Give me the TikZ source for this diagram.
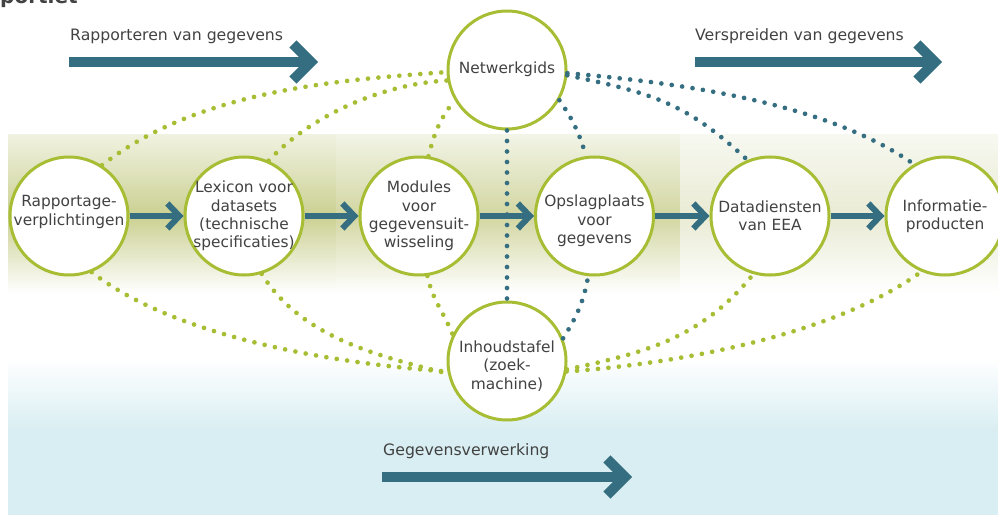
\documentclass[tikz,border=0pt]{standalone}
\usepackage{fontspec}
\setmainfont{DejaVu Sans}
\usetikzlibrary{arrows.meta}
\definecolor{cRing}{RGB}{167,189,52}
\definecolor{cTeal}{RGB}{52,110,128}
\definecolor{cText}{RGB}{66,66,66}
\definecolor{cBlue}{RGB}{217,238,242}
\definecolor{bandLmid}{RGB}{203,208,145}
\definecolor{bandLtop}{RGB}{240,242,224}
\definecolor{bandMmid}{RGB}{210,214,160}
\definecolor{bandMtop}{RGB}{242,244,230}
\definecolor{bandRmid}{RGB}{233,235,212}
\definecolor{bandRtop}{RGB}{247,248,240}
\tikzset{
  circ/.style={circle, draw=cRing, line width=3pt, fill=white, minimum size=118pt, inner sep=0pt},
  txt/.style={text=cText, align=center, inner sep=0pt, font=\fontsize{15.4}{18.3}\selectfont},
  lbl/.style={text=cText, anchor=base west, inner sep=0pt, font=\fontsize{15.7}{18}\selectfont},
  flow/.style={draw=cTeal, line width=6pt, -{Straight Barb[length=12pt,width=25pt,sharp]}},
  bigflow/.style={draw=cTeal, line width=10pt, -{Straight Barb[length=18pt,width=36pt,sharp]}},
  gdot/.style={draw=cRing, line width=4.7pt, line cap=round, dash pattern=on 0pt off 10.5pt},
  tdot/.style={draw=cTeal, line width=4.7pt, line cap=round, dash pattern=on 0pt off 10.5pt}
}
\begin{document}
\begin{tikzpicture}[x=1pt,y=1pt]
\useasboundingbox (0,0) rectangle (998,515);
% background band
\shade[top color=bandLtop, bottom color=bandLmid] (8,299) rectangle (336,380);
\shade[top color=bandLmid, bottom color=white] (8,222) rectangle (336,299);
\shade[top color=bandMtop, bottom color=bandMmid] (336,299) rectangle (680,380);
\shade[top color=bandMmid, bottom color=white] (336,222) rectangle (680,299);
\shade[top color=bandRtop, bottom color=bandRmid] (680,299) rectangle (998,380);
\shade[top color=bandRmid, bottom color=white] (680,222) rectangle (998,299);
% blue bottom area
\shade[top color=white, bottom color=cBlue] (8,85) rectangle (998,157);
\fill[cBlue] (8,0) rectangle (998,85.5);
% heading (cut off at the top edge, as in the reference)
\node[anchor=base west, inner sep=0pt, text=cText, font=\bfseries\fontsize{20}{24}\selectfont] (hd) at (0,511) {portiet};
% circles
\node[circ, label={[txt,yshift=4pt]center:Rapportage-\\verplichtingen}] (rap) at (69,299) {};
\node[circ, label={[txt]center:Lexicon voor\\datasets\\(technische\\specificaties)}] (lex) at (244,299) {};
\node[circ, label={[txt]center:Modules\\voor\\gegevensuit-\\wisseling}] (mod) at (419,299) {};
\node[circ, label={[txt,yshift=-5pt]center:Opslagplaats\\voor\\gegevens}] (ops) at (594.5,299) {};
\node[circ, label={[txt]center:Datadiensten\\van EEA}] (dat) at (770,299) {};
\node[circ, label={[txt]center:Informatie-\\producten}] (inf) at (945,299) {};
\node[circ, label={[txt,yshift=1pt]center:Netwerkgids}] (net) at (507,445) {};
\node[circ, label={[txt,yshift=-5pt]center:Inhoudstafel\\(zoek-\\machine)}] (inh) at (507,154) {};
% flow arrows
\draw[flow] (rap) -- (lex);
\draw[flow] (lex) -- (mod);
\draw[flow] (mod) -- (ops);
\draw[flow] (ops) -- (dat);
\draw[flow] (dat) -- (inf);
% big arrows with labels
\node[lbl] (l1) at (70,474) {Rapporteren van gegevens};
\node[lbl] (l2) at (695,474) {Verspreiden van gegevens};
\node[lbl] (l3) at (383,60) {Gegevensverwerking};
\coordinate (a1s) at (69,453);  \coordinate (a1e) at (318,453);
\coordinate (a2s) at (695,453); \coordinate (a2e) at (942,453);
\coordinate (a3s) at (382,38);  \coordinate (a3e) at (632,38);
\draw[bigflow] (a1s) -- (a1e);
\draw[bigflow] (a2s) -- (a2e);
\draw[bigflow] (a3s) -- (a3e);
% green dotted links
\draw[gdot] (rap.57) to[out=38,in=184,looseness=0.85] (net.182);
\draw[gdot] (lex.66) to[out=47,in=183,looseness=0.83] (net.190);
\draw[gdot] (mod.81) to[out=76,in=232] (net.210);
\draw[gdot] (rap.292) to[out=-38,in=176,looseness=0.75] (inh.190);
\draw[gdot] (lex.287) to[out=-58,in=166,looseness=0.9] (inh.192);
\draw[gdot] (mod.278) to[out=-78,in=112] (inh.154);
\draw[gdot] (inh.352) to[out=12,in=231] (dat.254);
\draw[gdot] (inh.350) to[out=4,in=216,looseness=0.76] (inf.247);
% teal dotted links
\draw[tdot] (net) -- (inh);
\draw[tdot] (net.330) to[out=-55,in=107] (ops.98);
\draw[tdot] (net.355) to[out=-12,in=137,looseness=1.1] (dat.112);
\draw[tdot] (net.357) to[out=-5,in=145,looseness=0.78] (inf.121);
\draw[tdot] (inh.22) to[out=58,in=260] (ops.264);
\end{tikzpicture}
\end{document}
